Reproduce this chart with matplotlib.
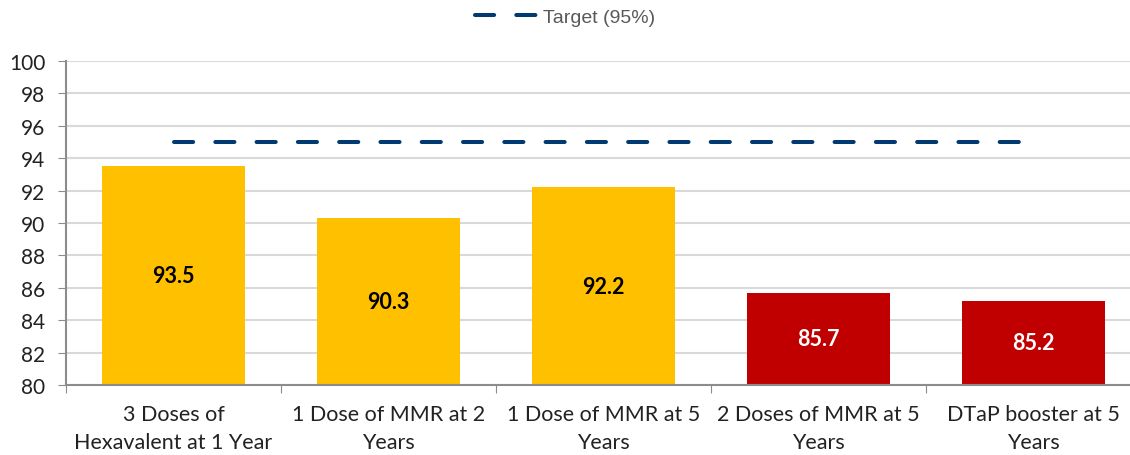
import matplotlib.pyplot as plt
from matplotlib.lines import Line2D

categories = [
    "3 Doses of\nHexavalent at 1 Year",
    "1 Dose of MMR at 2\nYears",
    "1 Dose of MMR at 5\nYears",
    "2 Doses of MMR at 5\nYears",
    "DTaP booster at 5\nYears",
]
coverage = [93.5, 90.3, 92.2, 85.7, 85.2]
target = [95, 95, 95, 95, 95]
meets_amber = [True, True, True, False, False]

_AMBER = "#FFC000"
_RED = "#C00000"
_NAVY = "#003A70"
_AXIS = "#8C8C8C"
_GRID = "#D9D9D9"
_FONT = ["Lato", "DejaVu Sans"]

plt.rcParams["font.family"] = _FONT

fig = plt.figure(figsize=(11.3, 4.56), dpi=100)
ax = fig.add_axes([66 / 1130, 70 / 456, 1075 / 1130, 324 / 456])

x = list(range(len(categories)))
colors = [_AMBER if ok else _RED for ok in meets_amber]
ax.bar(x, [v - 80 for v in coverage], bottom=80, width=0.665, color=colors, zorder=2)

for i, v in enumerate(coverage):
    ax.text(
        i, (80 + v) / 2, f"{v:.1f}", ha="center", va="center",
        fontsize=15.5, fontweight="bold",
        color="black" if meets_amber[i] else "white", zorder=3,
    )

line, = ax.plot(x, target, color=_NAVY, linewidth=2.9, zorder=3,
                dash_capstyle="round", label="Target (95%)")
line.set_dashes((4.75, 5.5))

ax.set_xlim(-0.5, len(categories) - 0.5)
ax.set_ylim(80, 100)
ax.set_yticks(range(80, 101, 2))
ax.tick_params(axis="y", labelsize=15, length=6, color=_AXIS, pad=9, labelcolor="#222222")

ax.set_xticks([i - 0.5 for i in range(len(categories) + 1)])
ax.set_xticklabels([])
ax.set_xticks(x, minor=True)
ax.set_xticklabels(categories, minor=True, fontsize=15.5, color="#222222", linespacing=1.5)
ax.tick_params(axis="x", which="major", length=6, color=_AXIS)
ax.tick_params(axis="x", which="minor", length=0, pad=14)

ax.grid(axis="y", color=_GRID, linewidth=1.5, zorder=0)
ax.set_axisbelow(True)
for side in ("top", "right"):
    ax.spines[side].set_visible(False)
for side in ("left", "bottom"):
    ax.spines[side].set_color(_AXIS)
    ax.spines[side].set_linewidth(1.5)

handle = Line2D([], [], color=_NAVY, linewidth=2.9, dash_capstyle="round")
handle.set_dashes((4.75, 5.5))
fig.legend(
    [handle], ["Target (95%)"], loc="center", bbox_to_anchor=(0.5, 1 - 18 / 456),
    frameon=False, handlelength=3.2, handletextpad=0.3,
    prop={"family": "Liberation Sans", "size": 14}, labelcolor="#595959",
)

fig.savefig("out.png", dpi=100)
